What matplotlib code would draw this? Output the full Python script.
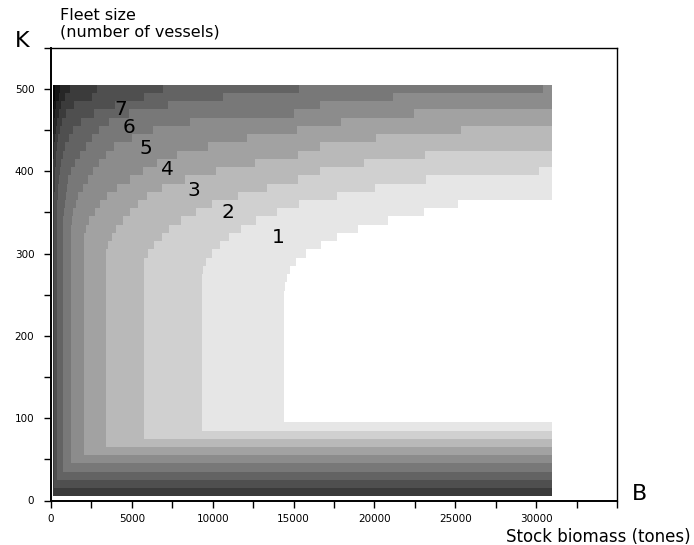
import numpy as np
import matplotlib
matplotlib.use("Agg")
import matplotlib.pyplot as plt
from matplotlib.colors import ListedColormap, BoundaryNorm

# ---------------- data ----------------
# Each shade level n (1..12) is drawn outside a region bounded by:
#   B >= level_bv[n], K > level_klow[n], K below the top curve (top_b, top_k)
level_bv = [14400, 9330, 5730, 3420, 2020, 1220, 740, 390, 185, 100, 100, 100]
level_klow = [95, 85, 75, 65, 55, 45, 35, 25, 15, 5, 5, 5]

top_b1 = [14400, 14585, 14770, 15200, 15700, 16620, 17860, 19400, 21880, 25280]
top_k1 = [255, 274, 284, 295, 304, 314, 326, 338, 349, 365]
top_b2 = [9330, 9410, 9640, 10010, 10440, 11060, 11800, 12730, 14030, 15430, 17820, 20160, 23310, 30540]
top_k2 = [276, 286, 296, 305, 315, 325, 335, 345, 355, 365, 375, 385, 395, 405]
top_b3 = [5730, 5790, 5990, 6400, 6920, 7420, 8500, 10000, 12500, 15400, 16700, 19500, 23300]
top_k3 = [286, 296, 305, 316, 326, 337, 350, 365, 380, 395, 405, 415, 425]
top_b4 = [3420, 3530, 3830, 4040, 4550, 4960, 5480, 6000, 7000, 8500, 10500, 13000, 15400, 16700, 20300, 25600]
top_k4 = [306, 316, 326, 336, 346, 356, 366, 376, 386, 396, 406, 416, 425, 435, 445, 455]
top_b5 = [2020, 2180, 2390, 2800, 3110, 3520, 4200, 5000, 5800, 6700, 8000, 10000, 12500, 15400, 18070, 22680]
top_k5 = [326, 336, 346, 356, 366, 376, 386, 396, 406, 416, 426, 436, 446, 455, 465, 475]
top_b6 = [1220, 1400, 1700, 2300, 3000, 4000, 5200, 6500, 9000, 15400, 16700, 21360, 30400, 30470]
top_k6 = [336, 356, 376, 396, 416, 436, 446, 456, 466, 475, 485, 495, 496, 510]
top_b7 = [740, 850, 1100, 1500, 2200, 3000, 4000, 5500, 7660, 11170, 15300, 15400]
top_k7 = [346, 366, 396, 416, 436, 456, 470, 478, 486, 496, 496, 510]
top_b8 = [390, 450, 600, 900, 1400, 2200, 3200, 4500, 6000, 6900, 6920]
top_k8 = [356, 386, 416, 436, 456, 470, 480, 488, 496, 496, 510]
top_b9 = [185, 230, 300, 450, 700, 1100, 1800, 2800, 2840]
top_k9 = [366, 396, 426, 446, 466, 480, 490, 496, 510]
top_b10 = [100, 150, 250, 400, 650, 900, 1150, 1170]
top_k10 = [380, 420, 450, 470, 485, 496, 496, 510]
top_b11 = [100, 150, 250, 400, 540, 560]
top_k11 = [420, 450, 475, 490, 496, 510]
top_b12 = [100, 180, 240, 250]
top_k12 = [460, 490, 496, 510]

level_grays = [1.0, 0.90, 0.815, 0.725, 0.635, 0.55, 0.47, 0.39, 0.31, 0.23, 0.15, 0.08, 0.02]

label_text = ["1", "2", "3", "4", "5", "6", "7"]
label_b = [14030, 10950, 8825, 7200, 5861, 4802, 4283]
label_k = [319, 350, 376, 402, 427, 453, 475]

b_range = [100, 31000]
k_range = [5, 505]
x_ticks_major = [0, 5000, 10000, 15000, 20000, 25000, 30000]
y_ticks_major = [0, 100, 200, 300, 400, 500]

# ---------------- build the shaded field ----------------
top_b = [top_b1, top_b2, top_b3, top_b4, top_b5, top_b6, top_b7, top_b8, top_b9, top_b10, top_b11, top_b12]
top_k = [top_k1, top_k2, top_k3, top_k4, top_k5, top_k6, top_k7, top_k8, top_k9, top_k10, top_k11, top_k12]

B_edges = np.arange(b_range[0], b_range[1] + 1, 20.0)
K_edges = np.arange(k_range[0], k_range[1] + 1, 10.0)
Bc = 0.5 * (B_edges[:-1] + B_edges[1:])
Kc = 0.5 * (K_edges[:-1] + K_edges[1:])
BB, KK = np.meshgrid(Bc, Kc)
level = np.zeros(BB.shape, dtype=int)
for n in range(len(level_bv)):
    ktop = np.interp(BB, top_b[n], top_k[n])
    inside = (BB >= level_bv[n]) & (KK > level_klow[n]) & (KK + 5 <= ktop + 0.5)
    level += (~inside).astype(int)

cmap = ListedColormap([(g, g, g) for g in level_grays])
norm = BoundaryNorm(np.arange(-0.5, len(level_grays) + 0.5), len(level_grays))

# ---------------- figure ----------------
W, H = 694, 545
fig = plt.figure(figsize=(W / 100, H / 100), dpi=100)
ax = fig.add_axes([51 / W, 1 - 500.5 / H, (617 - 51) / W, (500.5 - 47.7) / H])
ax.pcolormesh(B_edges, K_edges, level, cmap=cmap, norm=norm, shading="flat",
              antialiased=False, linewidth=0)
ax.set_xlim(0, 35000)
ax.set_ylim(0, 550)

for s in ["left", "bottom"]:
    ax.spines[s].set_linewidth(1.4)
for s in ["top", "right"]:
    ax.spines[s].set_linewidth(1.0)

ax.set_xticks(np.arange(0, 35001, 2500))
ax.set_xticklabels([str(int(v)) if v in x_ticks_major else "" for v in np.arange(0, 35001, 2500)])
ax.set_yticks(np.arange(0, 551, 50))
ax.set_yticklabels([str(int(v)) if v in y_ticks_major else "" for v in np.arange(0, 551, 50)])
ax.tick_params(axis="both", direction="out", length=5, width=1.0, labelsize=7.5, colors="black")
ax.tick_params(axis="x", pad=5)
ax.tick_params(axis="y", pad=7)
for lab in ax.get_xticklabels() + ax.get_yticklabels():
    lab.set_family("DejaVu Sans")

for t, b, k in zip(label_text, label_b, label_k):
    ax.text(b, k, t, ha="center", va="center", fontsize=14.5, color="black", family="DejaVu Sans")

fig.text(60 / W, 1 - 8 / H, "Fleet size\n(number of vessels)", ha="left", va="top",
         fontsize=11.5, linespacing=1.15, family="DejaVu Sans")
fig.text(22 / W, 1 - 41 / H, "K", ha="center", va="center", fontsize=16, family="DejaVu Sans")
fig.text(639 / W, 1 - 494 / H, "B", ha="center", va="center", fontsize=16, family="DejaVu Sans")
fig.text(691 / W, 1 - 537 / H, "Stock biomass (tones)", ha="right", va="center",
         fontsize=12, family="DejaVu Sans")

fig.savefig("out.png", dpi=100)
